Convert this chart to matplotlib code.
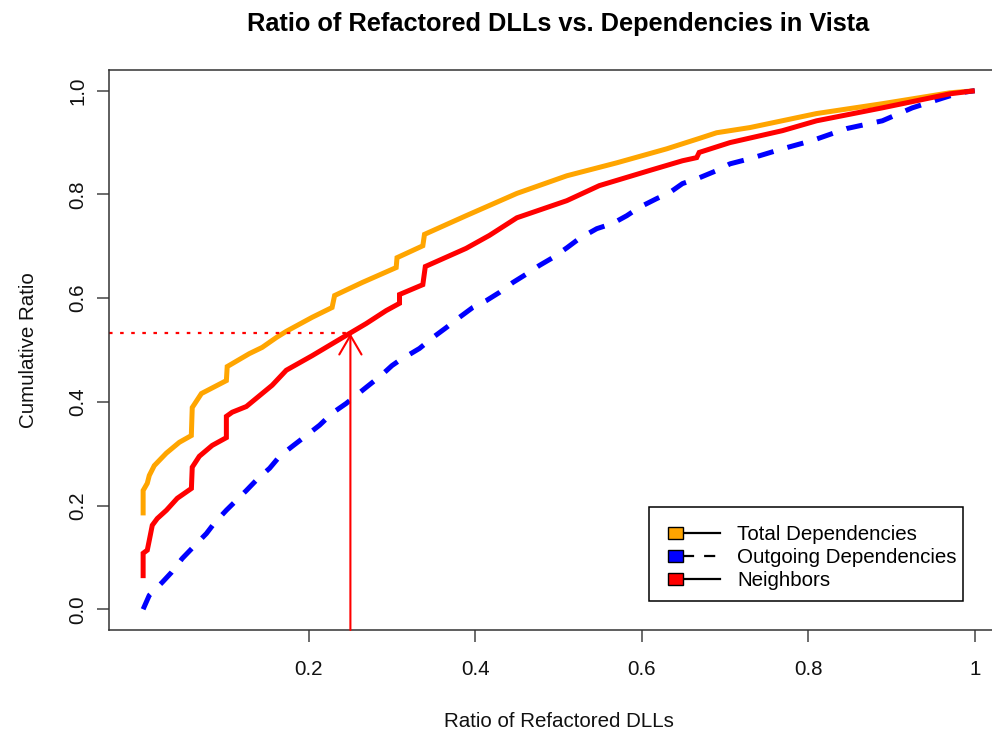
import matplotlib
matplotlib.use("Agg")
import matplotlib.pyplot as plt
from matplotlib.legend_handler import HandlerBase
from matplotlib.patches import Rectangle
from matplotlib.lines import Line2D

plt.rcParams['font.family'] = ['Liberation Sans', 'DejaVu Sans']

# ---- data ----
total_x = [0.001, 0.001, 0.006, 0.0084, 0.0144, 0.0288, 0.0445, 0.0589, 0.060, 0.071, 0.101, 0.102,
           0.1286, 0.144, 0.161, 0.173, 0.204, 0.228, 0.231, 0.264, 0.288, 0.305, 0.306, 0.337, 0.339,
           0.389, 0.450, 0.510, 0.570, 0.630, 0.669, 0.690, 0.730, 0.810, 0.889, 0.970, 1.0]
total_y = [0.181, 0.229, 0.243, 0.258, 0.277, 0.301, 0.322, 0.335, 0.389, 0.416, 0.441, 0.468,
           0.493, 0.505, 0.524, 0.536, 0.563, 0.582, 0.605, 0.630, 0.647, 0.659, 0.678, 0.701, 0.723,
           0.759, 0.802, 0.836, 0.861, 0.888, 0.908, 0.919, 0.929, 0.956, 0.975, 0.996, 1.0]

out_x = [0.001, 0.0084, 0.024, 0.035, 0.048, 0.060, 0.077, 0.0865, 0.101, 0.113, 0.125, 0.137, 0.153,
         0.165, 0.180, 0.197, 0.213, 0.228, 0.245, 0.269, 0.287, 0.300, 0.309, 0.333, 0.349, 0.365,
         0.381, 0.397, 0.413, 0.429, 0.445, 0.462, 0.477, 0.493, 0.510, 0.525, 0.546, 0.565, 0.582,
         0.597, 0.618, 0.633, 0.649, 0.669, 0.690, 0.706, 0.730, 0.769, 0.805, 0.846, 0.889, 0.925,
         0.962, 0.982, 1.0]
out_y = [0.0, 0.027, 0.052, 0.071, 0.098, 0.118, 0.146, 0.166, 0.191, 0.210, 0.229, 0.249, 0.272,
         0.295, 0.314, 0.335, 0.355, 0.378, 0.397, 0.428, 0.451, 0.470, 0.480, 0.503, 0.524, 0.543,
         0.563, 0.582, 0.595, 0.611, 0.630, 0.647, 0.663, 0.678, 0.697, 0.715, 0.734, 0.744, 0.759,
         0.775, 0.792, 0.803, 0.821, 0.832, 0.846, 0.859, 0.869, 0.888, 0.904, 0.927, 0.942, 0.967,
         0.986, 0.996, 1.0]

nb_x = [0.001, 0.001, 0.006, 0.0084, 0.012, 0.018, 0.029, 0.042, 0.059, 0.060, 0.0685, 0.084, 0.101,
        0.101, 0.108, 0.125, 0.156, 0.173, 0.204, 0.249, 0.269, 0.293, 0.309, 0.309, 0.337, 0.340,
        0.389, 0.417, 0.450, 0.510, 0.549, 0.609, 0.649, 0.666, 0.669, 0.706, 0.769, 0.810, 0.889,
        0.970, 1.0]
nb_y = [0.060, 0.108, 0.114, 0.133, 0.162, 0.175, 0.191, 0.214, 0.233, 0.274, 0.295, 0.316, 0.331,
        0.372, 0.380, 0.391, 0.432, 0.461, 0.489, 0.532, 0.551, 0.576, 0.590, 0.607, 0.626, 0.661,
        0.696, 0.721, 0.755, 0.788, 0.817, 0.846, 0.865, 0.871, 0.881, 0.900, 0.923, 0.942, 0.967,
        0.994, 1.0]

series_labels = ["Total Dependencies", "Outgoing Dependencies", "Neighbors"]
series_colors = ["#FFA500", "#0000FF", "#FF0000"]

x_ticks = [0.2, 0.4, 0.6, 0.8, 1.0]
x_tick_labels = ["0.2", "0.4", "0.6", "0.8", "1"]
y_ticks = [0.0, 0.2, 0.4, 0.6, 0.8, 1.0]
y_tick_labels = ["0.0", "0.2", "0.4", "0.6", "0.8", "1.0"]

marker_x = 0.25
marker_y = 0.532

# ---- figure ----
W, H = 992, 732
fig = plt.figure(figsize=(W / 100, H / 100), dpi=100)
ax_left, ax_right, ax_top, ax_bottom = 109, 1008, 70, 630
ax = fig.add_axes([ax_left / W, (H - ax_bottom) / H, (ax_right - ax_left) / W,
                   (ax_bottom - ax_top) / H])
ax.set_xlim(-0.04, 1.04)
ax.set_ylim(-0.04, 1.04)

lw = 3.6
l_total, = ax.plot(total_x, total_y, color=series_colors[0], lw=lw, solid_joinstyle='miter',
                   solid_capstyle='butt')
l_out, = ax.plot(out_x, out_y, color=series_colors[1], lw=lw, linestyle=(0, (3.3, 2.9)),
                 dash_capstyle='butt')
l_nb, = ax.plot(nb_x, nb_y, color=series_colors[2], lw=lw, solid_joinstyle='miter',
                solid_capstyle='butt')

# dotted guide and arrow
ax.plot([-0.04, marker_x], [marker_y, marker_y], color='red', lw=1.6,
        linestyle=(0, (1.6, 3.4)))
ax.annotate('', xy=(marker_x, marker_y), xytext=(marker_x, -0.04),
            arrowprops=dict(arrowstyle='->,head_length=1.37,head_width=0.8',
                            color='red', lw=1.5, shrinkA=0, shrinkB=0, mutation_scale=10))

# axes styling
fs = 14.8
for side in ['top', 'right', 'left', 'bottom']:
    ax.spines[side].set_linewidth(1.1)
    ax.spines[side].set_color('#333333')
ax.set_xticks(x_ticks)
ax.set_xticklabels(x_tick_labels)
ax.set_yticks(y_ticks)
ax.set_yticklabels(y_tick_labels, rotation=90, va='center')
ax.tick_params(axis='both', direction='out', length=8.6, width=1.1, color='#444444',
               labelsize=fs, labelcolor='#111111')
ax.tick_params(axis='x', pad=13)
ax.tick_params(axis='y', pad=7)

ax.set_xlabel("Ratio of Refactored DLLs", fontsize=fs, labelpad=24, color='#111111')
ax.set_ylabel("Cumulative Ratio", fontsize=fs, labelpad=22, color='#111111')
ax.set_title("Ratio of Refactored DLLs vs. Dependencies in Vista", fontsize=18.3,
             fontweight='bold', pad=28)


class SquareLineHandler(HandlerBase):
    def create_artists(self, legend, orig_handle, xdescent, ydescent, width, height,
                       fontsize, trans):
        color = orig_handle.get_color()
        ls = orig_handle.get_linestyle()
        off = 3.7
        sqw, sqh = 10.6, 8.6
        cy = height / 2 - ydescent
        rect = Rectangle((-xdescent + off, cy - sqh / 2), sqw, sqh, facecolor=color,
                         edgecolor='black', lw=1.0, transform=trans)
        if ls in ('-', 'solid'):
            dash = '-'
        else:
            dash = (0, (5, 4.5))
        line = Line2D([-xdescent + off + sqw, -xdescent + width], [cy, cy], color='black',
                      lw=1.6, linestyle=dash, transform=trans)
        return [line, rect]


# legend frame drawn explicitly (pixel box 649..963 x 507..601)
lg_x0, lg_x1, lg_y0, lg_y1 = 649, 963, 507, 601
aw, ah = ax_right - ax_left, ax_bottom - ax_top
frame = Rectangle(((lg_x0 - ax_left) / aw, (ax_bottom - lg_y1) / ah),
                  (lg_x1 - lg_x0) / aw, (lg_y1 - lg_y0) / ah, transform=ax.transAxes,
                  facecolor='white', edgecolor='black', lw=1.1, zorder=4)
ax.add_patch(frame)

leg = ax.legend([l_total, l_out, l_nb], series_labels, loc='lower left',
                bbox_to_anchor=((lg_x0 - ax_left) / aw, (ax_bottom - lg_y1 - 3) / ah),
                borderaxespad=0, fontsize=fs, handlelength=2.78, handletextpad=0.83,
                borderpad=0.67, labelspacing=0.2, frameon=False,
                handler_map={Line2D: SquareLineHandler()})
leg.set_zorder(5)

fig.savefig("out.png", dpi=100)
